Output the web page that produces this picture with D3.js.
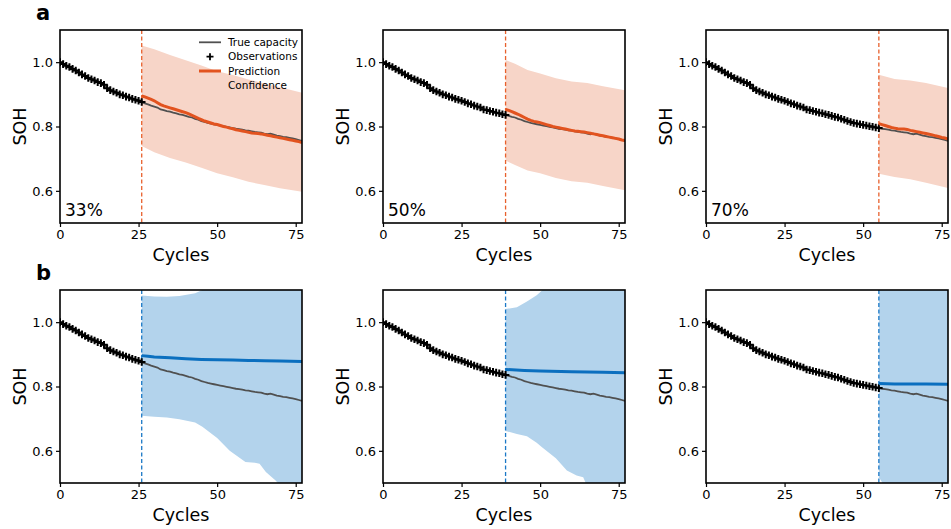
<!DOCTYPE html>
<html><head><meta charset="utf-8">
<script src="https://cdn.jsdelivr.net/npm/d3@7"></script>
<style>body{margin:0;background:#fff}svg text{font-family:"DejaVu Sans",sans-serif;fill:#000}</style>
</head><body><svg id="c" width="951" height="529"></svg>
<script>
// ---------- DATA ----------
const trueCapacity = [1.000,0.994,0.989,0.985,0.979,0.974,0.968,0.962,0.957,0.951,
 0.947,0.943,0.938,0.935,0.930,0.919,0.913,0.909,0.905,0.900,
 0.897,0.893,0.890,0.886,0.883,0.880,0.876,0.872,0.869,0.865,
 0.862,0.859,0.853,0.851,0.848,0.846,0.843,0.841,0.838,0.836,
 0.833,0.830,0.828,0.824,0.821,0.817,0.814,0.811,0.809,0.807,
 0.805,0.803,0.801,0.799,0.797,0.795,0.793,0.792,0.790,0.788,
 0.787,0.785,0.783,0.782,0.781,0.778,0.776,0.778,0.775,0.772,
 0.770,0.768,0.767,0.765,0.763,0.761,0.758,0.755];
const splitCycles = [26, 39, 55];
const splitLabels = ["33%", "50%", "70%"];
const xTicks = [0, 25, 50, 75];
const yTicks = [0.6, 0.8, 1.0];
const rowLetters = ["a", "b"];
const legendLabels = ["True capacity", "Observations", "Prediction", "Confidence"];

// row a predictions (per cycle, starting at split)
const predA33 = [0.895,0.892,0.888,0.884,0.880,0.874,0.868,0.864,0.861,0.858,
 0.855,0.852,0.849,0.846,0.843,0.839,0.835,0.830,0.825,0.821,
 0.817,0.814,0.811,0.808,0.806,0.803,0.800,0.798,0.795,0.793,
 0.790,0.788,0.786,0.784,0.782,0.780,0.779,0.778,0.777,0.775,
 0.773,0.771,0.769,0.767,0.765,0.763,0.761,0.759,0.757,0.755,0.753,0.750];
const predA50 = [0.853,0.850,0.846,0.842,0.838,0.833,0.828,0.823,0.819,0.816,
 0.814,0.812,0.809,0.806,0.803,0.800,0.798,0.796,0.794,0.792,
 0.790,0.788,0.786,0.785,0.784,0.783,0.781,0.779,0.777,0.775,
 0.773,0.771,0.769,0.767,0.765,0.763,0.761,0.758,0.756];
const predA70 = [0.809,0.806,0.803,0.800,0.797,0.795,0.793,0.792,0.792,0.791,
 0.788,0.786,0.784,0.782,0.780,0.778,0.776,0.774,0.771,0.769,0.766,0.764,0.761];

// row a confidence bands
const bandA33X  = [26,30,35,40,45,50,55,60,65,70,77];
const bandA33Hi = [1.052,1.040,1.022,1.006,0.990,0.972,0.960,0.946,0.934,0.922,0.905];
const bandA33Lo = [0.739,0.720,0.702,0.688,0.672,0.655,0.642,0.628,0.618,0.608,0.597];
const bandA50X  = [39,42,46,50,55,60,65,70,77];
const bandA50Hi = [1.007,0.995,0.976,0.965,0.950,0.940,0.935,0.925,0.913];
const bandA50Lo = [0.694,0.680,0.663,0.655,0.640,0.630,0.625,0.615,0.602];
const bandA70X  = [55,60,65,70,77];
const bandA70Hi = [0.961,0.948,0.943,0.935,0.920];
const bandA70Lo = [0.653,0.643,0.636,0.625,0.609];

// row b predictions
const predB33X = [26,28,30,35,40,45,50,55,60,65,70,77];
const predB33  = [0.896,0.894,0.892,0.889,0.886,0.884,0.883,0.882,0.881,0.880,0.879,0.878];
const predB50X = [39,45,50,60,70,77];
const predB50  = [0.853,0.850,0.848,0.846,0.844,0.843];
const predB70X = [55,60,70,77];
const predB70  = [0.809,0.808,0.808,0.807];

// row b confidence bands
const bandB33X  = [26,30,34,38,43,45.3,50,54,59,62,63.5,65.5,68.6,72,77];
const bandB33Hi = [1.083,1.080,1.079,1.081,1.090,1.100,1.120,1.140,1.160,1.170,1.170,1.180,1.190,1.200,1.200];
const bandB33Lo = [0.709,0.706,0.704,0.698,0.688,0.675,0.640,0.600,0.565,0.563,0.560,0.534,0.508,0.470,0.430];
const bandB50X  = [39,42.6,45.8,48.9,50.5,55,58.5,61.6,63.7,64.5,67,77];
const bandB50Hi = [1.041,1.046,1.064,1.084,1.098,1.130,1.150,1.160,1.170,1.170,1.180,1.200];
const bandB50Lo = [0.662,0.652,0.645,0.625,0.612,0.577,0.539,0.523,0.518,0.500,0.470,0.400];
const bandB70X  = [55,56.5,77];
const bandB70Hi = [1.200,1.200,1.200];
const bandB70Lo = [0.518,0.495,0.400];

// ---------- BUILD ----------
const zip = (xs, ys, x0) => ys.map((v, i) => [xs ? xs[i] : x0 + i, v]);
const zipBand = (xs, lo, hi) => xs.map((x, i) => [x, lo[i], hi[i]]);

const rows = [
  { color: "#e2531f", band: "#f7d5c8", dash: "#e8602c",
    panels: [
      { pred: zip(null, predA33, splitCycles[0]), band: zipBand(bandA33X, bandA33Lo, bandA33Hi) },
      { pred: zip(null, predA50, splitCycles[1]), band: zipBand(bandA50X, bandA50Lo, bandA50Hi) },
      { pred: zip(null, predA70, splitCycles[2]), band: zipBand(bandA70X, bandA70Lo, bandA70Hi) } ] },
  { color: "#0b6fbf", band: "#b3d3ec", dash: "#1a78c6",
    panels: [
      { pred: zip(predB33X, predB33), band: zipBand(bandB33X, bandB33Lo, bandB33Hi) },
      { pred: zip(predB50X, predB50), band: zipBand(bandB50X, bandB50Lo, bandB50Hi) },
      { pred: zip(predB70X, predB70), band: zipBand(bandB70X, bandB70Lo, bandB70Hi) } ] }
];

const svg = d3.select("#c");
const colLeft = [60, 383, 706], rowTop = [30, 290];
const W = 242, H = 193;
const trueData = trueCapacity.map((v, i) => [i, v]);

rows.forEach((row, r) => {
  svg.append("text").attr("x", 36).attr("y", rowTop[r] - 10)
    .attr("font-size", 21).attr("font-weight", "bold").text(rowLetters[r]);
  row.panels.forEach((p, c) => {
    const x = d3.scaleLinear().domain([0, 77]).range([0, W]);
    const y = d3.scaleLinear().domain([0.5, 1.1]).range([H, 0]);
    const g = svg.append("g").attr("transform", `translate(${colLeft[c]},${rowTop[r]})`);
    const cid = `clip${r}${c}`;
    g.append("clipPath").attr("id", cid).append("rect").attr("width", W).attr("height", H);
    const pg = g.append("g").attr("clip-path", `url(#${cid})`);

    pg.append("path").datum(p.band)
      .attr("d", d3.area().x(d => x(d[0])).y0(d => y(d[1])).y1(d => y(d[2])))
      .attr("fill", row.band);
    const s = splitCycles[c];
    pg.append("line").attr("x1", x(s)).attr("x2", x(s)).attr("y1", 0).attr("y2", H)
      .attr("stroke", row.dash).attr("stroke-width", 1.3).attr("stroke-dasharray", "4,2.5");
    const line = d3.line().x(d => x(d[0])).y(d => y(d[1]));
    pg.append("path").datum(trueData).attr("d", line)
      .attr("fill", "none").attr("stroke", "#505050").attr("stroke-width", 1.8);
    pg.selectAll(".obs").data(trueData.filter(d => d[0] <= s)).join("path")
      .attr("transform", d => `translate(${x(d[0])},${y(d[1])})`)
      .attr("d", "M-3.8,0H3.8M0,-3.8V3.8").attr("stroke", "#000").attr("stroke-width", 2);
    pg.append("path").datum(p.pred).attr("d", line)
      .attr("fill", "none").attr("stroke", row.color).attr("stroke-width", 3);

    // axes
    const xa = g.append("g").attr("transform", `translate(0,${H})`)
      .call(d3.axisBottom(x).tickValues(xTicks).tickSize(4).tickPadding(3).tickFormat(d3.format("d")));
    const ya = g.append("g")
      .call(d3.axisLeft(y).tickValues(yTicks).tickSize(4).tickPadding(3).tickFormat(d3.format(".1f")));
    [xa, ya].forEach(a => {
      a.select(".domain").remove();
      a.selectAll("line").attr("stroke", "#000").attr("stroke-width", 1.2);
      a.selectAll("text").attr("font-size", 13).attr("font-family", "DejaVu Sans").attr("fill", "#000");
    });
    g.append("rect").attr("width", W).attr("height", H)
      .attr("fill", "none").attr("stroke", "#000").attr("stroke-width", 1.6);

    g.append("text").attr("x", W / 2).attr("y", H + 38).attr("text-anchor", "middle")
      .attr("font-size", 17.5).text("Cycles");
    g.append("text").attr("transform", `translate(-34,${H / 2}) rotate(-90)`)
      .attr("text-anchor", "middle").attr("font-size", 17.5).text("SOH");
    if (r === 0) {
      g.append("text").attr("x", 5).attr("y", H - 7).attr("font-size", 17).text(splitLabels[c]);
    }
    if (r === 0 && c === 0) {
      const lg = g.append("g");
      const rowsY = [12.3, 26.7, 41, 55];
      const lx0 = 139, lx1 = 161, tx = 168;
      lg.append("line").attr("x1", lx0).attr("x2", lx1).attr("y1", rowsY[0]).attr("y2", rowsY[0])
        .attr("stroke", "#505050").attr("stroke-width", 1.8);
      lg.append("path").attr("transform", `translate(${(lx0 + lx1) / 2},${rowsY[1]})`)
        .attr("d", "M-3.5,0H3.5M0,-3.5V3.5").attr("stroke", "#000").attr("stroke-width", 1.8);
      lg.append("line").attr("x1", lx0).attr("x2", lx1).attr("y1", rowsY[2]).attr("y2", rowsY[2])
        .attr("stroke", row.color).attr("stroke-width", 3);
      lg.append("rect").attr("x", lx0).attr("y", rowsY[3] - 4).attr("width", lx1 - lx0).attr("height", 8)
        .attr("fill", row.band);
      legendLabels.forEach((t, i) => {
        lg.append("text").attr("x", tx).attr("y", rowsY[i]).attr("dy", "0.35em")
          .attr("font-size", 10.5).text(t);
      });
    }
  });
});
</script></body></html>
